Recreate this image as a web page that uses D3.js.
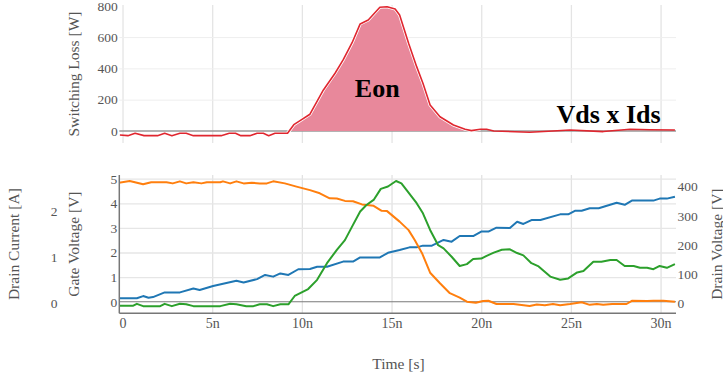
<!DOCTYPE html>
<html>
<head>
<meta charset="utf-8">
<script src="https://cdn.jsdelivr.net/npm/d3@7"></script>
<style>
  html, body { margin: 0; padding: 0; background: #fff; }
  svg { display: block; }
  text { font-family: "Liberation Serif", "Times New Roman", serif; }
</style>
</head>
<body>
<svg id="chart" width="723" height="376"></svg>
<script>
// ---- data (time in ns) ----
const timePower = [-0.15, 0.3, 0.7, 1.2, 1.95, 2.35, 2.75, 3.2, 3.55, 3.95, 4.85, 5.5, 5.95, 6.3, 6.6, 7.1, 7.5, 7.85, 8.15, 8.5, 9.2, 9.55, 9.9, 10.45, 11.2, 11.85, 12.3, 12.8, 13.25, 13.7, 14.35, 14.75, 15.2, 15.45, 15.95, 16.4, 16.75, 17.15, 17.7, 18.45, 19.1, 19.45, 19.95, 20.3, 20.7, 22.7, 24.0, 24.95, 26.8, 28.3, 29.4, 30.8];
const switchingLoss = [-26, -30, -15, -30, -30, -15, -30, -15, -15, -30, -30, -30, -15, -15, -30, -30, -15, -15, -30, -15, -15, 40, 66, 107, 262, 369, 454, 564, 684, 709, 791, 794, 780, 741, 560, 411, 305, 166, 91, 38, 11, 2, 11, 11, 0, -8, 0, 6, -4, 11, 8, 6];
const eonWindow = [9.2, 19.95];

const timeGate = [-0.2, 0.8, 1.15, 1.45, 1.7, 2.35, 3.2, 3.95, 4.3, 5.05, 6.35, 6.75, 7.5, 7.95, 8.4, 8.8, 9.25, 9.8, 10.45, 10.85, 11.4, 12.3, 12.85, 13.25, 14.35, 14.8, 15.45, 16.0, 16.4, 16.75, 17.25, 17.9, 18.35, 18.8, 19.55, 20.0, 20.4, 20.85, 21.6, 22.0, 22.35, 22.8, 23.3, 24.4, 24.85, 25.25, 25.6, 26.05, 26.55, 27.55, 28.0, 28.4, 29.6, 29.95, 30.35, 30.8];
const gateVoltage = [0.14, 0.14, 0.23, 0.16, 0.19, 0.38, 0.38, 0.54, 0.48, 0.64, 0.85, 0.78, 0.92, 1.09, 1.02, 1.15, 1.09, 1.32, 1.33, 1.42, 1.42, 1.63, 1.63, 1.80, 1.80, 1.99, 2.10, 2.21, 2.21, 2.28, 2.28, 2.51, 2.44, 2.67, 2.67, 2.85, 2.85, 3.01, 3.00, 3.25, 3.16, 3.32, 3.32, 3.55, 3.55, 3.70, 3.70, 3.80, 3.80, 4.02, 3.94, 4.11, 4.11, 4.19, 4.19, 4.27];

const timeCurrent = [-0.2, 0.6, 0.8, 1.15, 2.1, 2.35, 2.75, 3.2, 3.55, 3.95, 5.45, 6.0, 6.35, 6.9, 7.3, 7.65, 8.05, 8.4, 8.8, 9.25, 9.6, 10.35, 10.85, 11.4, 11.95, 12.4, 12.85, 13.25, 13.6, 14.0, 14.4, 14.8, 15.25, 15.55, 16.4, 16.75, 17.15, 17.6, 17.9, 18.35, 18.8, 19.2, 19.55, 20.0, 20.3, 20.7, 21.15, 21.6, 22.0, 22.35, 22.8, 23.2, 23.85, 24.4, 24.85, 25.35, 25.7, 26.25, 26.7, 27.2, 27.55, 28.0, 28.5, 28.85, 29.25, 29.6, 29.95, 30.35, 30.8];
const drainCurrent = [-0.05, -0.05, -0.01, -0.06, -0.06, -0.01, -0.06, -0.01, -0.02, -0.06, -0.06, -0.01, -0.02, -0.06, -0.06, -0.02, -0.02, -0.06, -0.02, -0.02, 0.16, 0.31, 0.51, 0.87, 1.16, 1.37, 1.70, 1.99, 2.13, 2.24, 2.48, 2.53, 2.65, 2.60, 2.17, 1.95, 1.59, 1.26, 1.19, 1.01, 0.81, 0.85, 0.96, 0.97, 1.03, 1.10, 1.16, 1.17, 1.09, 1.04, 0.87, 0.80, 0.58, 0.51, 0.54, 0.67, 0.70, 0.90, 0.90, 0.94, 0.94, 0.81, 0.81, 0.77, 0.77, 0.74, 0.81, 0.77, 0.85];

const timeDrain = [-0.2, 0.4, 1.15, 1.6, 2.45, 2.8, 3.2, 3.55, 3.95, 4.4, 4.7, 5.45, 5.6, 6.0, 6.35, 6.75, 7.2, 7.65, 8.05, 8.4, 9.05, 9.7, 10.45, 11.0, 11.55, 11.95, 12.4, 12.85, 13.35, 14.0, 14.45, 14.75, 15.45, 15.95, 16.3, 16.7, 17.15, 17.7, 18.25, 18.8, 19.2, 19.7, 20.1, 20.4, 20.85, 21.8, 22.7, 23.1, 23.55, 24.0, 24.4, 24.95, 25.6, 26.05, 26.45, 26.8, 27.3, 28.1, 28.4, 29.25, 29.6, 30.15, 30.8];
const drainVoltage = [413, 419, 408, 415, 415, 411, 418, 411, 415, 411, 415, 415, 418, 411, 418, 411, 413, 411, 411, 418, 411, 400, 388, 377, 360, 359, 351, 350, 339, 334, 317, 316, 280, 251, 216, 172, 105, 69, 35, 20, 6, 2, 8, 9, -2, -2, -9, -4, -6, -2, -6, -2, 4, -5, -2, -5, -2, -2, 9, 8, 9, 9, 6];

// ---- ticks ----
const timeTicks = [0, 5, 10, 15, 20, 25, 30];
const timeTickLabels = ["0", "5n", "10n", "15n", "20n", "25n", "30n"];
const lossTicks = [0, 200, 400, 600, 800];
const gateTicks = [0, 1, 2, 3, 4, 5];
const currentTicks = [0, 1, 2];
const drainTicks = [0, 100, 200, 300, 400];

// ---- layout ----
const svg = d3.select("#chart");
const left = 119.3, right = 676;
const top1 = 5, bottom1 = 143;
const top2 = 175, bottom2 = 313.3;

const x = d3.scaleLinear().domain([-0.18, 30.86]).range([left, right]);
const yLoss = d3.scaleLinear().domain([-77, 805]).range([bottom1, top1]);
const yGate = d3.scaleLinear().domain([-0.47, 5.15]).range([bottom2, top2]);
const yCurrent = d3.scaleLinear().domain([-0.215, 2.78]).range([bottom2, top2]);
const yDrain = d3.scaleLinear().domain([-33.9, 439.7]).range([bottom2, top2]);

const serif = '"Liberation Serif", "Times New Roman", serif';
const tickColor = "#555";
const tickFont = "13.5px";
const titleFont = "15.5px";
const intFormat = d3.format("d");

svg.append("rect").attr("width", 723).attr("height", 376).attr("fill", "#fff");

const defs = svg.append("defs");
defs.append("clipPath").attr("id", "clipTop").append("rect")
  .attr("x", left).attr("y", top1).attr("width", right - left).attr("height", bottom1 - top1);
defs.append("clipPath").attr("id", "clipBottom").append("rect")
  .attr("x", left).attr("y", top2).attr("width", right - left).attr("height", bottom2 - top2);

function styleGrid(g, color, width) {
  g.select(".domain").remove();
  g.selectAll(".tick line").attr("stroke", color).attr("stroke-width", width);
  g.selectAll(".tick text").remove();
}
function styleLabels(g, size) {
  g.select(".domain").remove();
  g.attr("font-family", null).attr("font-size", null);
  g.selectAll("text")
    .attr("fill", null)
    .style("fill", tickColor)
    .style("font-family", serif)
    .style("font-size", size || tickFont);
}

// ===== top panel: switching loss =====
const gridTopX = svg.append("g").attr("transform", `translate(0,${bottom1})`)
  .call(d3.axisBottom(x).tickValues(timeTicks).tickSize(-(bottom1 - top1)).tickFormat(""));
styleGrid(gridTopX, "#e4e4e4", 1.3);

const gridTopY = svg.append("g").attr("transform", `translate(${left},0)`)
  .call(d3.axisLeft(yLoss).tickValues([200, 400, 600]).tickSize(-(right - left)).tickFormat(""));
styleGrid(gridTopY, "#eeeeee", 1);

// zero line
svg.append("line")
  .attr("x1", left).attr("x2", right)
  .attr("y1", yLoss(0)).attr("y2", yLoss(0))
  .attr("stroke", "#9a9a9a").attr("stroke-width", 1.6);

const lossPts = timePower.map((t, i) => [t, switchingLoss[i]]);
const eonPts = lossPts.filter(d => d[0] >= eonWindow[0] && d[0] <= eonWindow[1]);

const topPlot = svg.append("g").attr("clip-path", "url(#clipTop)");
topPlot.append("path")
  .datum(eonPts)
  .attr("d", d3.area().x(d => x(d[0])).y0(yLoss(0)).y1(d => yLoss(d[1])))
  .attr("fill", "#e8889b");
topPlot.append("path")
  .datum(eonPts)
  .attr("d", d3.line().x(d => x(d[0])).y(d => yLoss(d[1])))
  .attr("fill", "none").attr("stroke", "#fff").attr("stroke-width", 3.2);
topPlot.append("path")
  .datum(lossPts)
  .attr("d", d3.line().x(d => x(d[0])).y(d => yLoss(d[1])))
  .attr("fill", "none").attr("stroke", "#e0262f").attr("stroke-width", 1.6)
  .attr("stroke-linejoin", "round");

// y axis labels (top)
const axLoss = svg.append("g").attr("transform", `translate(${left - 1.5},0)`)
  .call(d3.axisLeft(yLoss).tickValues(lossTicks).tickSize(0).tickPadding(0).tickFormat(intFormat));
styleLabels(axLoss);

svg.append("text")
  .attr("transform", `translate(79,${(top1 + bottom1) / 2}) rotate(-90)`)
  .attr("text-anchor", "middle").attr("fill", tickColor).style("font-size", titleFont)
  .text("Switching Loss [W]");

// annotations
svg.append("text").attr("x", x(14.2)).attr("y", 97.3)
  .attr("text-anchor", "middle").style("font-size", "26px").style("font-weight", "bold")
  .attr("fill", "#000").text("Eon");
svg.append("text").attr("x", x(27.1)).attr("y", 122.7)
  .attr("text-anchor", "middle").style("font-size", "26px").style("font-weight", "bold")
  .attr("fill", "#000").text("Vds x Ids");

// ===== bottom panel: gate voltage, drain current, drain voltage =====
const gridBotX = svg.append("g").attr("transform", `translate(0,${bottom2})`)
  .call(d3.axisBottom(x).tickValues(timeTicks.slice(1)).tickSize(-(bottom2 - top2)).tickFormat(""));
styleGrid(gridBotX, "#e2e2e2", 1.3);

const gridBotY = svg.append("g").attr("transform", `translate(${left},0)`)
  .call(d3.axisLeft(yGate).tickValues(gateTicks.slice(1)).tickSize(-(right - left)).tickFormat(""));
styleGrid(gridBotY, "#e6e6e6", 1.3);

// zero line for gate voltage
svg.append("line")
  .attr("x1", left).attr("x2", right)
  .attr("y1", yGate(0)).attr("y2", yGate(0))
  .attr("stroke", "#7a7a7a").attr("stroke-width", 1.2);

const botPlot = svg.append("g").attr("clip-path", "url(#clipBottom)");
function drawTrace(times, values, yScale, color) {
  botPlot.append("path")
    .datum(times.map((t, i) => [t, values[i]]))
    .attr("d", d3.line().x(d => x(d[0])).y(d => yScale(d[1])))
    .attr("fill", "none").attr("stroke", color).attr("stroke-width", 2)
    .attr("stroke-linejoin", "round");
}
drawTrace(timeGate, gateVoltage, yGate, "#1f77b4");
drawTrace(timeDrain, drainVoltage, yDrain, "#ff7f0e");
drawTrace(timeCurrent, drainCurrent, yCurrent, "#2ca02c");

// axis lines
svg.append("line").attr("x1", left).attr("x2", left).attr("y1", top2).attr("y2", bottom2)
  .attr("stroke", "#777").attr("stroke-width", 1.5);
svg.append("line").attr("x1", left).attr("x2", right).attr("y1", bottom2).attr("y2", bottom2)
  .attr("stroke", "#777").attr("stroke-width", 1.5);

// x axis labels
const axTime = svg.append("g").attr("transform", `translate(0,${bottom2})`)
  .call(d3.axisBottom(x).tickValues(timeTicks).tickSize(0).tickPadding(5)
    .tickFormat((d, i) => timeTickLabels[i]));
styleLabels(axTime, "14px");

// gate voltage axis
const axGate = svg.append("g").attr("transform", `translate(${left - 2},0)`)
  .call(d3.axisLeft(yGate).tickValues(gateTicks).tickSize(0).tickPadding(0).tickFormat(intFormat));
styleLabels(axGate);

// drain current axis (free-standing)
const axCurrent = svg.append("g").attr("transform", `translate(57.5,0)`)
  .call(d3.axisLeft(yCurrent).tickValues(currentTicks).tickSize(0).tickPadding(0).tickFormat(intFormat));
styleLabels(axCurrent);

// drain voltage axis (right)
const axDrain = svg.append("g").attr("transform", `translate(${right + 1.5},0)`)
  .call(d3.axisRight(yDrain).tickValues(drainTicks).tickSize(0).tickPadding(0).tickFormat(intFormat));
styleLabels(axDrain);

// titles
const midBot = (top2 + bottom2) / 2;
svg.append("text")
  .attr("transform", `translate(79,${midBot}) rotate(-90)`)
  .attr("text-anchor", "middle").attr("fill", tickColor).style("font-size", titleFont)
  .text("Gate Voltage [V]");
svg.append("text")
  .attr("transform", `translate(18.5,${midBot}) rotate(-90)`)
  .attr("text-anchor", "middle").attr("fill", tickColor).style("font-size", titleFont)
  .text("Drain Current [A]");
svg.append("text")
  .attr("transform", `translate(721.5,${midBot}) rotate(-90)`)
  .attr("text-anchor", "middle").attr("fill", tickColor).style("font-size", titleFont)
  .text("Drain Voltage [V]");
svg.append("text")
  .attr("x", 398.5).attr("y", 368.5)
  .attr("text-anchor", "middle").attr("fill", tickColor).style("font-size", titleFont)
  .text("Time [s]");
</script>
</body>
</html>
